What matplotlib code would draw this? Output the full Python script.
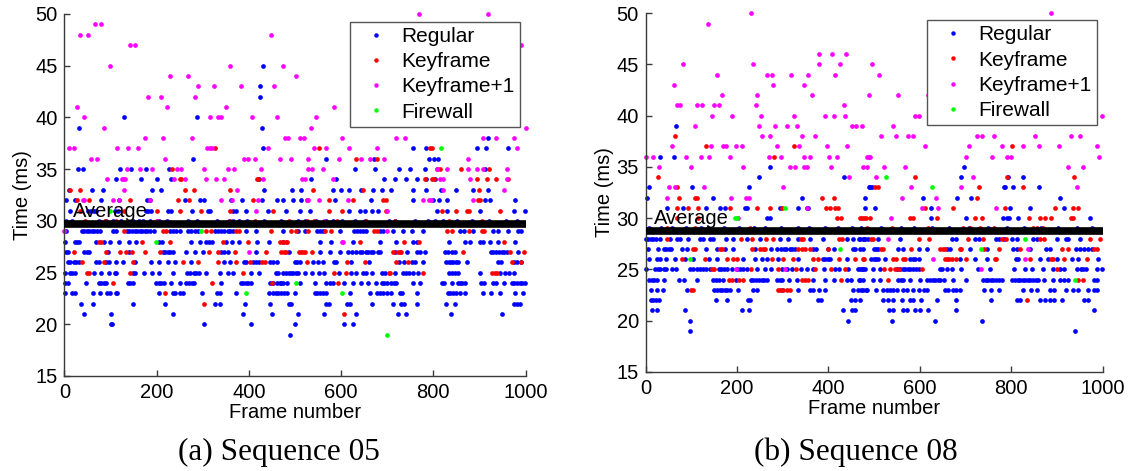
import matplotlib
matplotlib.use("Agg")
import matplotlib.pyplot as plt
from matplotlib.lines import Line2D

# ---------------- Sequence 05: frame numbers per time level (ms) ----------------
seq05_regular = {
    19: [489],
    20: [101, 104, 302, 405, 500, 606, 626],
    21: [43, 101, 235, 387, 451, 507, 563, 633, 723, 741, 838, 950],
    22: [36, 62, 149, 219, 326, 337, 391, 445, 487, 491, 568, 574, 612, 619, 666, 712,
         731, 737, 765, 827, 847, 976, 981, 987],
    23: [1, 17, 22, 62, 76, 92, 98, 111, 114, 206, 235, 240, 250, 257, 298, 331, 337, 373,
         444, 452, 458, 464, 470, 476, 483, 499, 543, 548, 554, 560, 568, 619, 662, 678, 684,
         690, 699, 709, 727, 732, 764, 831, 837, 843, 849, 858, 869, 908, 926, 945, 977, 995],
    24: [1, 7, 47, 75, 80, 85, 90, 137, 143, 148, 199, 205, 210, 216, 232, 250, 264, 270, 276,
         282, 340, 383, 388, 394, 399, 405, 445, 452, 460, 467, 470, 474, 483, 510, 544, 567,
         577, 583, 606, 626, 644, 659, 675, 688, 694, 699, 709, 714, 719, 756, 772, 818, 824,
         840, 853, 858, 863, 869, 903, 909, 930, 935, 953, 970, 976, 981, 987, 992, 998],
    25: [2, 11, 16, 22, 65, 80, 96, 109, 112, 149, 154, 172, 190, 205, 235, 266, 273, 280, 286,
         292, 308, 337, 354, 366, 405, 422, 458, 464, 474, 480, 486, 491, 496, 502, 507, 521,
         537, 552, 562, 596, 621, 632, 648, 655, 667, 688, 696, 717, 735, 741, 747, 756, 767,
         834, 840, 847, 853, 901, 945, 955, 964, 974],
    26: [7, 13, 20, 25, 31, 69, 75, 90, 96, 111, 126, 152, 187, 206, 224, 239, 275, 345, 358,
         389, 394, 410, 416, 423, 445, 452, 460, 500, 505, 510, 539, 550, 560, 584, 589, 621,
         661, 725, 736, 753, 760, 778, 827, 833, 838, 843, 849, 854, 872, 941, 947, 974, 982, 990],
    27: [4, 7, 43, 49, 53, 94, 141, 213, 218, 224, 229, 235, 264, 284, 300, 340, 347, 355, 415,
         487, 555, 576, 597, 615, 623, 632, 641, 646, 653, 659, 665, 670, 679, 684, 717, 744,
         764, 771, 783, 825, 832, 840, 847, 925, 930, 936, 942, 948, 954, 959, 983],
    28: [2, 22, 27, 32, 69, 85, 98, 118, 140, 156, 206, 212, 275, 293, 306, 313, 319, 350, 364,
         379, 418, 443, 474, 555, 578, 625, 684, 718, 755, 765, 834, 869, 880, 901, 908, 924,
         941, 977],
    29: [4, 38, 43, 49, 54, 60, 65, 71, 76, 105, 112, 135, 141, 146, 152, 157, 163, 168, 174,
         179, 185, 194, 228, 235, 242, 250, 268, 275, 283, 290, 326, 333, 340, 347, 354, 360,
         366, 393, 416, 474, 507, 521, 548, 554, 560, 597, 628, 634, 640, 648, 654, 684, 690,
         713, 735, 753, 778, 858, 866, 887, 929, 940, 963, 984, 990],
    30: [4, 17, 75, 89, 105, 122, 148, 161, 170, 185, 204, 222, 268, 287, 330, 357, 366, 378,
         395, 432, 470, 506, 522, 545, 567, 583, 603, 631, 652, 703, 716, 761, 788, 803, 822,
         851, 883, 921, 958, 982],
    31: [11, 51, 58, 64, 69, 109, 116, 177, 182, 188, 224, 232, 277, 311, 316, 366, 373, 394,
         442, 481, 510, 532, 617, 640, 651, 666, 681, 807, 829, 901, 974, 998],
    32: [4, 22, 80, 119, 180, 186, 262, 295, 302, 362, 384, 429, 460, 475, 496, 513, 586, 664,
         756, 800, 812, 830, 912, 924, 977],
    33: [9, 60, 83, 189, 209, 433, 494, 514, 583, 599, 617, 644, 670, 688, 708, 756, 785, 816,
         850, 887, 919],
    34: [112, 166, 200, 230, 423, 534, 590, 694, 717, 741, 764, 785, 803],
    35: [30, 41, 121, 145, 177, 226, 631, 673, 726, 749, 783, 912],
    36: [279, 568, 671, 790, 802, 811],
    37: [431, 755, 785, 894, 914, 961],
    38: [919],
    39: [32, 428],
    40: [129, 288],
    42: [424],
    43: [425],
    45: [430],
}
seq05_keyframe = {
    21: [606],
    22: [302],
    23: [219],
    24: [106, 321, 450, 594],
    25: [49, 54, 143, 387, 584, 610, 704, 707, 777, 928, 934, 938],
    26: [37, 85, 148, 257, 290, 332, 373, 403, 428, 436, 525, 612, 652, 718, 746, 970, 991],
    27: [20, 89, 121, 134, 146, 175, 208, 313, 333, 369, 438, 470, 476, 480, 508, 513, 517,
         522, 537, 712, 724, 727, 731, 864, 966, 997],
    28: [75, 80, 168, 228, 344, 397, 467, 474, 481, 483, 641, 736, 769, 953],
    29: [130, 214, 221, 308, 318, 373, 379, 447, 491, 503, 528, 565, 579, 671, 677, 829, 840,
         877, 905, 910],
    30: [45, 88, 111, 200, 359, 413, 486, 525, 541, 592, 655, 716, 835, 905],
    31: [33, 129, 200, 250, 297, 358, 452, 574, 601, 697, 818, 849, 874, 878, 945],
    32: [27, 53, 143, 246, 270, 409, 525, 574, 626, 690, 697, 898, 901],
    33: [12, 33, 261, 281, 358, 539, 648, 900],
    34: [250, 253, 417, 420, 782, 798, 802, 895, 916, 937, 961],
    35: [234, 809, 814, 859, 921],
    36: [633, 678],
    37: [326, 552, 792, 797],
}
seq05_keyframe1 = {
    27: [400],
    28: [601, 604],
    29: [0, 700],
    30: [201, 562],
    31: [416, 699],
    32: [40, 43, 106, 118, 185, 340, 363, 420, 526, 529, 552, 614, 778, 791, 794, 887],
    33: [129, 375, 821, 953],
    34: [92, 124, 128, 132, 237, 262, 306, 328, 347, 431, 516, 521, 583, 814, 820, 879, 959],
    35: [136, 163, 189, 245, 253, 302, 355, 368, 427, 528, 536, 560, 807, 829, 876, 895, 907, 959],
    36: [58, 71, 218, 389, 398, 413, 467, 492, 528, 596, 644, 662, 694, 876],
    37: [9, 20, 115, 138, 159, 310, 316, 321, 442, 541, 568, 617, 678, 981],
    38: [175, 214, 276, 478, 484, 510, 519, 601, 719, 739, 908, 937, 974],
    39: [85, 534, 1000],
    40: [43, 316, 332, 340, 407, 460, 545],
    41: [27, 223, 350, 584],
    42: [182, 210, 284],
    43: [290, 325, 382, 454],
    44: [228, 269, 503],
    45: [98, 359, 474],
    47: [143, 152, 990],
    48: [34, 51, 447],
    49: [67, 80],
    50: [770, 919],
}
seq05_firewall = {
    19: [700],
    23: [394, 601],
    24: [502],
    28: [198],
    29: [297],
    31: [98],
    37: [816],
}

# ---------------- Sequence 08: frame numbers per time level (ms) ----------------
seq08_regular = {
    19: [97, 939],
    20: [97, 442, 539, 632, 736],
    21: [13, 25, 86, 211, 226, 431, 452, 457, 532, 542, 564, 571, 589, 600, 618, 680, 980],
    22: [11, 17, 23, 29, 154, 177, 223, 228, 314, 376, 383, 449, 459, 469, 520, 531, 542, 560,
         578, 584, 602, 637, 680, 756, 812, 819, 863, 874, 885, 894, 910, 959, 969],
    23: [11, 24, 37, 90, 150, 156, 162, 168, 173, 179, 185, 201, 235, 243, 298, 334, 360, 367,
         379, 393, 454, 464, 472, 481, 476, 485, 504, 520, 527, 535, 542, 549, 564, 571, 586,
         597, 608, 615, 655, 662, 673, 680, 688, 741, 756, 774, 826, 843, 856, 885, 893, 919,
         936, 947, 969, 980, 988],
    24: [7, 13, 19, 25, 39, 73, 84, 113, 148, 154, 160, 170, 198, 230, 235, 241, 248, 254, 259,
         265, 287, 293, 299, 314, 332, 367, 392, 411, 440, 449, 466, 475, 469, 498, 513, 553,
         558, 564, 578, 600, 615, 622, 628, 633, 640, 644, 653, 672, 702, 739, 745, 750, 756,
         761, 767, 774, 779, 801, 808, 814, 819, 825, 830, 836, 841, 848, 854, 859, 872, 891,
         907, 915, 925, 980, 988],
    25: [0, 20, 26, 32, 39, 44, 57, 66, 97, 104, 112, 119, 126, 133, 141, 160, 165, 171, 177,
         188, 199, 206, 214, 221, 243, 262, 274, 298, 309, 321, 339, 353, 367, 390, 414, 422,
         443, 465, 474, 480, 469, 476, 498, 513, 551, 556, 562, 567, 573, 578, 586, 591, 597,
         643, 648, 659, 670, 691, 728, 753, 806, 829, 846, 870, 892, 907, 915, 944, 952, 958,
         963, 988, 998],
    26: [7, 24, 31, 44, 64, 86, 104, 139, 155, 214, 239, 254, 265, 290, 334, 387, 393, 398,
         403, 440, 494, 500, 505, 509, 524, 578, 584, 590, 597, 688, 721, 746, 810, 815, 863,
         881, 899, 932, 947, 990],
    27: [6, 26, 39, 44, 50, 55, 79, 90, 133, 155, 174, 192, 239, 275, 287, 296, 302, 308, 315,
         321, 327, 367, 373, 398, 411, 454, 459, 469, 476, 500, 504, 509, 553, 564, 597, 615,
         659, 666, 710, 746, 804, 812, 841, 877, 885, 942, 950, 959, 967, 976],
    28: [0, 6, 11, 17, 22, 31, 53, 69, 75, 93, 119, 126, 141, 148, 175, 190, 221, 250, 294,
         312, 334, 360, 387, 440, 453, 466, 477, 487, 469, 475, 480, 509, 556, 670, 680, 721,
         730, 767, 774, 783, 801, 812, 848, 856, 901, 919, 925, 950],
    29: [8, 33, 58, 88, 122, 137, 171, 205, 238, 262, 296, 333, 358, 392, 420, 452, 471, 516,
         559, 587, 626, 663, 707, 748, 791, 828, 866, 903, 944, 977],
    30: [265, 271, 624, 702, 781, 790, 795, 815, 972],
    31: [47, 82, 132, 163, 174, 217, 221, 294, 334, 352, 356, 480, 502, 624, 797, 841, 915],
    32: [2, 148, 341, 480, 606, 682, 712, 906],
    33: [7, 101, 226, 489, 491, 495, 783, 786, 804, 860],
    34: [249, 433, 691, 793, 825],
    35: [272, 696],
    36: [31, 63],
    39: [67],
}
seq08_keyframe = {
    22: [835],
    23: [99, 104, 289, 294, 300, 310, 316],
    24: [183, 188, 205, 214, 343, 349, 355, 428, 531, 947, 956],
    25: [145, 150, 230, 290, 330, 370, 405, 436, 521, 535, 546, 555, 604, 899],
    26: [79, 130, 177, 192, 199, 276, 301, 323, 367, 378, 423, 458, 478, 476, 542, 548, 562,
         567, 655, 660, 664, 670, 680, 702, 764, 767, 841, 887, 892, 915, 965],
    27: [103, 108, 163, 168, 232, 250, 256, 262, 334, 341, 349, 360, 400, 515, 519, 580, 644,
         650, 655, 688, 691, 740, 773, 819, 910, 925, 980, 988],
    28: [47, 208, 233, 263, 279, 340, 344, 423, 430, 494, 498, 597, 621, 706, 739, 779, 788,
         863, 872, 972, 994],
    29: [47, 108, 228, 484, 538, 618, 695, 710, 731, 763, 847, 856, 870],
    30: [68, 115, 418, 428, 474, 483, 469, 478, 491, 578, 586, 638, 721, 735, 839, 863, 874,
         886, 930, 934],
    31: [68, 92, 115, 185, 244, 272, 298, 395, 403, 414, 421, 611, 673, 786, 896, 934, 947],
    32: [73, 108, 113, 385, 413, 726],
    33: [69, 501, 509, 730, 825],
    34: [28, 590, 790, 938],
    36: [281],
    37: [133, 325, 802],
    38: [65],
}
seq08_keyframe1 = {
    25: [197, 305, 733],
    26: [629, 831],
    27: [836],
    28: [531],
    30: [203, 536],
    31: [352, 604, 639, 767],
    32: [47, 187, 220, 225, 560, 635],
    33: [52, 64, 127, 300, 581, 689, 944],
    34: [444, 505, 717],
    35: [29, 99, 214, 315, 327, 346, 354, 405, 476, 485, 521, 567, 924, 958],
    36: [0, 16, 88, 120, 138, 185, 269, 295, 346, 360, 401, 419, 485, 489, 491, 702, 758, 791,
         800, 993],
    37: [57, 143, 170, 175, 198, 210, 288, 336, 397, 440, 611, 707, 779, 825, 861, 905, 988],
    38: [255, 272, 341, 371, 516, 548, 575, 586, 726, 737, 763, 852, 931, 950],
    39: [108, 249, 284, 309, 331, 451, 461, 473, 542],
    40: [146, 189, 253, 325, 392, 412, 436, 589, 597, 999],
    41: [68, 74, 113, 123, 150, 161, 241, 434],
    42: [166, 244, 363, 488, 553, 618],
    43: [61, 279, 346],
    44: [157, 265, 277, 317, 355, 414, 511],
    45: [81, 235, 379, 425, 495],
    46: [379, 408, 438],
    49: [136],
    50: [230, 887],
}
seq08_firewall = {
    24: [939],
    26: [96],
    27: [426, 733],
    28: [831],
    30: [195, 199],
    31: [305],
    33: [626],
    34: [526],
}

average_05 = 29.7
average_08 = 28.7

series_labels = ["Regular", "Keyframe", "Keyframe+1", "Firewall"]
series_colors = ["#0000ff", "#ff0000", "#ff00ff", "#00ff00"]
captions = ["(a) Sequence 05", "(b) Sequence 08"]

x_ticks = [0, 200, 400, 600, 800, 1000]
y_ticks = [15, 20, 25, 30, 35, 40, 45, 50]


def to_points(rows):
    xs, ys = [], []
    for t, frames in rows.items():
        xs.extend(frames)
        ys.extend([t] * len(frames))
    return xs, ys


plt.rcParams["font.family"] = ["Liberation Sans", "DejaVu Sans"]

fig = plt.figure(figsize=(11.37, 4.71), dpi=100)
ax_a = fig.add_axes([0.0567, 0.2017, 0.4055, 0.7686])
ax_b = fig.add_axes([0.5679, 0.2108, 0.4019, 0.7610])

panels = [
    (ax_a, [seq05_regular, seq05_keyframe, seq05_keyframe1, seq05_firewall], average_05,
     (0.988, 0.979)),
    (ax_b, [seq08_regular, seq08_keyframe, seq08_keyframe1, seq08_firewall], average_08,
     (0.9875, 0.981)),
]

axis_grey = "#3a3a3a"
for ax, groups, avg, legend_anchor in panels:
    for rows, color in zip(groups, series_colors):
        xs, ys = to_points(rows)
        ax.scatter(xs, ys, s=11.5, c=color, linewidths=0, clip_on=False, zorder=2)
    ax.plot([0, 1000], [avg, avg], color="black", linewidth=5.5, solid_capstyle="butt",
            zorder=3)
    ax.text(18, avg + 1.25, "Average", fontsize=14.5, va="center", ha="left", zorder=4)

    ax.set_xlim(0, 1000)
    ax.set_ylim(15, 50)
    ax.set_xticks(x_ticks)
    ax.set_yticks(y_ticks)
    ax.tick_params(direction="in", length=4, width=1, color=axis_grey, labelsize=14.5,
                   pad=5)
    for side in ("top", "right"):
        ax.spines[side].set_visible(False)
    for side in ("left", "bottom"):
        ax.spines[side].set_color(axis_grey)
        ax.spines[side].set_linewidth(1)
    ax.set_xlabel("Frame number", fontsize=14.5, labelpad=1)
    ax.set_ylabel("Time (ms)", fontsize=14.5, labelpad=2)

    handles = [Line2D([], [], linestyle="", marker="o", markersize=3.2, color=c,
                      markeredgewidth=0) for c in series_colors]
    leg = ax.legend(handles, series_labels, loc="upper right",
                    bbox_to_anchor=legend_anchor, fontsize=15, frameon=True,
                    fancybox=False, framealpha=1, edgecolor="#555555",
                    borderpad=0.25, labelspacing=0.3, handlelength=2.07,
                    handletextpad=0.17, borderaxespad=0)
    leg.get_frame().set_linewidth(1)
    leg.set_zorder(5)

fig.text(0.2454, 0.040, captions[0], fontsize=22.5, family="Liberation Serif",
         ha="center", va="center")
fig.text(0.753, 0.040, captions[1], fontsize=22.5, family="Liberation Serif",
         ha="center", va="center")

fig.savefig("out.png", dpi=100)
